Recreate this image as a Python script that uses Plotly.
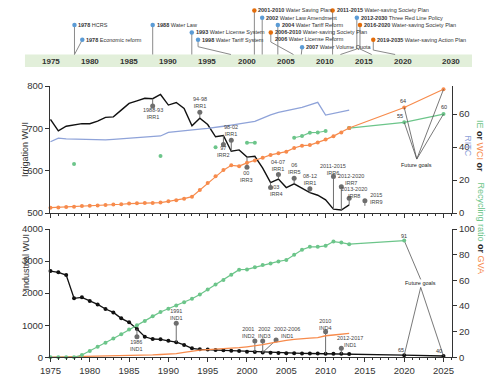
import plotly.graph_objects as go

# ---------------- data ----------------
YEARS = list(range(1975, 2014))
FUT_YEARS = [2020, 2025]

# Irrigation panel
IRR_WUI = [721, 694, 705, 708, 711, 711, 717, 726, 727, 743,
           759, 765, 771, 770, 780, 755, 761, 747, 706, 724,
           709, 680, 683, 646, 649, 632, 634, 606, 572, 580,
           560, 569, 559, 548, 542, 531, 509, 507, 519]
IRR_RITC = [43.2, 45.4, 45.0, 44.8, 44.7, 44.6, 44.5, 44.3, 44.6, 44.9,
            45.2, 45.6, 46.0, 46.4, 46.7, 48.9, 49.5, 50.0, 50.5, 50.9,
            51.3, 51.8, 52.6, 53.3, 54.0, 54.7, 55.6, 57.5, 59.5, 61.0,
            62.0, 63.0, 64.0, 65.5, 67.1, 59.4, 60.5, 61.6, 62.4]
IRR_WCI = [3.2, 3.4, 3.6, 3.8, 4.2, 4.4, 4.6, 4.8, 5.1, 5.3,
           5.7, 5.9, 6.1, 6.1, 6.3, 7.1, 7.7, 8.7, 9.9, 14.0,
           18.2, 22.3, 26.0, 28.9, 28.4, 30.4, 31.8, 33.5, 35.2, 36.2,
           37.2, 39.4, 40.8, 41.2, 42.7, 44.5, 46.6, 48.8, 51.5]
IRR_WCI_GOALS = [64, 75]
IE_YEARS = [1978, None, 1989, None, 1996, None, 2000, 2001, None,
            2006, 2007, 2008, 2009, 2010, None, 2013]
IE_VALUES = [29.7, None, 34.6, None, 39.8, None, 42.6, 42.6, None,
             45.6, 46.7, 48.7, 48.8, 49.7, None, 51.5]
IE_GOALS = [55, 60]

# Industrial panel
IND_WUI = [2690, 2650, 2565, 1840, 1870, 1755, 1650, 1505, 1400, 1215,
           1090, 880, 640, 570, 560, 515, 470, 385, 280, 250,
           245, 228, 218, 205, 195, 175, 165, 150, 140, 135,
           130, 125, 120, 118, 115, 112, 110, 108, 105]
IND_WUI_GOALS = [65, 40]
IND_RECYCLE = [0, 0, 0, 0, 1.8, 4.9, 8.2, 11.3, 14.7, 18.0,
               21.6, 25.0, 28.3, 31.9, 35.3, 37.9, 40.4, 43.0, 45.6, 49.0,
               52.8, 56.7, 60.3, 64.4, 68.3, 68.5, 70.1, 71.9, 73.2, 74.7,
               75.8, 79.9, 83.8, 86.1, 86.1, 86.9, 90.2, 89.4, 88.2]
IND_RECYCLE_GOAL = [91]
IND_GVA = [0.2, 0.3, 0.4, 0.5, 0.6, 0.7, 0.8, 0.9, 1.0, 1.1,
           1.3, 1.5, 1.7, 1.9, 2.2, 2.5, 2.9, 3.8, 5.0, 5.6,
           6.0, 6.3, 6.6, 7.0, 7.5, 8.2, 8.8, 9.8, 11.0, 12.3,
           13.2, 14.0, 14.7, 15.0, 15.4, 16.8, 17.4, 18.0, 18.6]

# Policy pins: (year of curve anchor, pin year, pin value, label)
IRR_PINS = [
    (1988, 1988, 753, "1988-93<br>IRR1"),
    (1994, 1994, 738, "94-98<br>IRR1"),
    (1997, 1997, 662, "97<br>IRR2"),
    (1998, 1998, 672, "98-02<br>IRR1"),
    (2000, 2000, 608, "00<br>IRR3"),
    (2003, 2003, 560, "03<br>IRR4"),
    (2004, 2004, 591, "04-07<br>IRR1"),
    (2006, 2006, 582, "06<br>IRR5"),
    (2008, 2008, 557, "08-12<br>IRR1"),
    (2011, 2011, 586, "2011-2015<br>IRR6"),
    (2012, 2012, 562, "2012-2020<br>IRR7"),
    (2013, 2013, 535, "2013-2020<br>IRR8"),
    (None, 2015, 529, "2015<br>IRR9"),
]
IRR9_BASE = 517
# label offsets (x years, y units) relative to pin
IRR_LABEL_OFF = [(0, -17), (0, 24), (0, -17), (0, 22), (0, -21), (0.8, -7),
                 (0, 21), (0, 22), (0, 22), (0, 16), (1.2, 17), (0.6, 13), (1.5, 6)]

IND_PINS = [
    (1986, 1986, 642, "1986<br>IND1"),
    (1991, 1991, 1060, "1991<br>IND1"),
    (2001, 2001, 508, "2001<br>IND2"),
    (2002, 2002, 508, "2002<br>IND3"),
    (2002, 2003.7, 539, "2002-2006<br>IND1"),
    (2010, 2010, 798, "2010<br>IND4"),
    (2012, 2012, 280, "2012-2017<br>IND1"),
]
IND_LABEL_OFF = [(0, -280), (0, 268), (-0.8, 259), (0.2, 259), (1.4, 228), (0, 218), (1.1, 218)]

# Timeline
TL_TICKS = [1975, 1980, 1985, 1990, 1995, 2000, 2005, 2010, 2015, 2020, 2030]
TL_EVENTS = [
    # year, bold label, text, kind, row, marker year, elbow row
    (1978, "1978", "HCRS", "law", 4, 1978, None),
    (1978, "1978", "Economic reform", "law", 2, 1979, None),
    (1988, "1988", "Water Law", "law", 4, 1988, None),
    (1993, "1993", "Water License System", "law", 3, 1993, None),
    (1998, "1998", "Water Tariff System", "law", 2, 1993.8, 1.06),
    (2001, "2001-2010", "Water Saving Plan", "plan", 6, 2001, None),
    (2002, "2002", "Water Law Amendment", "law", 5, 2002, None),
    (2004, "2004", "Water Tariff Reform", "law", 4, 2004, None),
    (2006, "2006-2010", "Water-saving Society Plan", "plan", 3, 2003.1, 1.7),
    (2006, "2006", "Water License Reform", "none", 2.15, 2003.1, None),
    (2007, "2007", "Water Volume Quota", "law", 1, 2007.1, None),
    (2011, "2011-2015", "Water-saving Society Plan", "plan", 6, 2011, None),
    (2012, "2012-2030", "Three Red Line Policy", "law", 5, 2014.1, 0.75),
    (2016, "2016-2020", "Water-saving Society Plan", "plan", 4, 2014.5, 0.75),
    (2019, "2019-2035", "Water-saving Action Plan", "plan", 2, 2016.2, 0.6),
]

# ---------------- style ----------------
FONT = "Liberation Sans, Arial, sans-serif"
BLACK = "#111111"
BLUE = "#8FA3D9"
GREEN = "#6CC58A"
ORANGE = "#F78B4C"
PIN = "#6e6e6e"
TXT = "#444444"
TL_BLUE = "#5B9BD5"
TL_ORANGE = "#E36C0A"

# page body has an 8px margin; figure is sized to fit the window
OFF = 8
W, H = 495, 383


def px_x(p):
    return (p - OFF) / W


def px_y(p):
    return 1 - (p - OFF) / H


def tl_pos(year):
    # compressed timeline scale beyond 2020
    return year if year <= 2020 else 2020 + (year - 2020) * 0.61


fig = go.Figure()

# ---------- irrigation panel ----------
fig.add_trace(go.Scatter(x=YEARS, y=IRR_RITC, mode="lines", line=dict(color=BLUE, width=1.3),
                         xaxis="x", yaxis="y2"))
fig.add_trace(go.Scatter(x=IE_YEARS + [None] + [2013] + FUT_YEARS,
                         y=IE_VALUES + [None] + [IE_VALUES[-1]] + IE_GOALS,
                         mode="lines+markers", line=dict(color=GREEN, width=1.2),
                         marker=dict(size=4, color=GREEN), xaxis="x", yaxis="y2", cliponaxis=False))
fig.add_trace(go.Scatter(x=YEARS + FUT_YEARS, y=IRR_WCI + IRR_WCI_GOALS, mode="lines+markers",
                         line=dict(color=ORANGE, width=1.2), marker=dict(size=4, color=ORANGE),
                         xaxis="x", yaxis="y2", cliponaxis=False))
fig.add_trace(go.Scatter(x=YEARS, y=IRR_WUI, mode="lines", line=dict(color=BLACK, width=1.4),
                         xaxis="x", yaxis="y"))

# irrigation pins
sx, sy, mx, my = [], [], [], []
for i, (ay, py, pv, lab) in enumerate(IRR_PINS):
    base = IRR_WUI[YEARS.index(ay)] if ay is not None else IRR9_BASE
    ax_ = ay if ay is not None else py
    sx += [ax_, py, None]
    sy += [base, pv, None]
    mx.append(py)
    my.append(pv)
    dx, dy = IRR_LABEL_OFF[i]
    fig.add_annotation(x=py + dx, y=pv + dy, xref="x", yref="y", text=lab, showarrow=False,
                       font=dict(size=5.5, color=TXT, family=FONT), align="center")
fig.add_trace(go.Scatter(x=sx, y=sy, mode="lines", line=dict(color=PIN, width=1), xaxis="x", yaxis="y"))
fig.add_trace(go.Scatter(x=mx, y=my, mode="markers", marker=dict(color=PIN, size=5), xaxis="x", yaxis="y"))

# future goals (irrigation)
apex_irr = (2021.6, 32.7)
gx, gy = [], []
for fy, fv in zip(FUT_YEARS * 2, IRR_WCI_GOALS + IE_GOALS):
    gx += [apex_irr[0], fy, None]
    gy += [apex_irr[1], fv, None]
fig.add_trace(go.Scatter(x=gx, y=gy, mode="lines", line=dict(color="#555", width=0.8),
                         xaxis="x", yaxis="y2"))
fig.add_annotation(x=apex_irr[0], y=apex_irr[1] - 3.3, xref="x", yref="y2", text="Future goals",
                   showarrow=False, font=dict(size=5.5, color="#222", family=FONT))
for fy, fv, dx, dy in [(2020, 64, -0.2, 4), (2025, 75, -0.3, 4), (2020, 55, -0.5, 4), (2025, 60, 0, 4)]:
    fig.add_annotation(x=fy + dx, y=fv + dy, xref="x", yref="y2", text=str(fv), showarrow=False,
                       font=dict(size=5.5, color="#333", family=FONT))

# ---------- industrial panel ----------
fig.add_trace(go.Scatter(x=YEARS, y=IND_GVA, mode="lines", line=dict(color=ORANGE, width=1.3),
                         xaxis="x2", yaxis="y4"))
fig.add_trace(go.Scatter(x=YEARS + [2020], y=IND_RECYCLE + IND_RECYCLE_GOAL, mode="lines+markers",
                         line=dict(color=GREEN, width=1.2), marker=dict(size=4, color=GREEN),
                         xaxis="x2", yaxis="y4", cliponaxis=False))
fig.add_trace(go.Scatter(x=YEARS + FUT_YEARS, y=IND_WUI + IND_WUI_GOALS, mode="lines+markers",
                         line=dict(color=BLACK, width=1.3), marker=dict(size=4, color=BLACK),
                         xaxis="x2", yaxis="y3", cliponaxis=False))

sx, sy, mx, my = [], [], [], []
for i, (ay, py, pv, lab) in enumerate(IND_PINS):
    base = IND_WUI[YEARS.index(ay)]
    sx += [ay, py, None]
    sy += [base, pv, None]
    mx.append(py)
    my.append(pv)
    dx, dy = IND_LABEL_OFF[i]
    fig.add_annotation(x=py + dx, y=pv + dy, xref="x2", yref="y3", text=lab, showarrow=False,
                       font=dict(size=5.5, color=TXT, family=FONT), align="center")
fig.add_trace(go.Scatter(x=sx, y=sy, mode="lines", line=dict(color=PIN, width=1), xaxis="x2", yaxis="y3"))
fig.add_trace(go.Scatter(x=mx, y=my, mode="markers", marker=dict(color=PIN, size=5), xaxis="x2", yaxis="y3"))

# future goals (industrial), drawn in left-axis units
ratio = 4000 / 100
up_apex = (2022.1, 60.7 * ratio)
lo_apex = (2022.1, 54.5 * ratio)
gx = [up_apex[0], 2020, None, lo_apex[0], 2020, None, lo_apex[0], 2025]
gy = [up_apex[1], IND_RECYCLE_GOAL[0] * ratio, None, lo_apex[1], IND_WUI_GOALS[0], None,
      lo_apex[1], IND_WUI_GOALS[1]]
fig.add_trace(go.Scatter(x=gx, y=gy, mode="lines", line=dict(color="#555", width=0.8),
                         xaxis="x2", yaxis="y3"))
fig.add_annotation(x=2022.1, y=57.6 * ratio, xref="x2", yref="y3", text="Future goals",
                   showarrow=False, font=dict(size=5.5, color="#222", family=FONT))
fig.add_annotation(x=2020, y=(IND_RECYCLE_GOAL[0] + 3.5) * ratio, xref="x2", yref="y3", text="91",
                   showarrow=False, font=dict(size=5.5, color="#333", family=FONT))
fig.add_annotation(x=2019.6, y=240, xref="x2", yref="y3", text="65",
                   showarrow=False, font=dict(size=5.5, color="#333", family=FONT))
fig.add_annotation(x=2024.4, y=200, xref="x2", yref="y3", text="40",
                   showarrow=False, font=dict(size=5.5, color="#333", family=FONT))

# ---------- timeline ----------
TL_ROW = 7.35  # px per row
TL_BASE = 54.5  # page px of band top


def tl_level(page_px):
    return (TL_BASE - page_px) / TL_ROW


fig.add_shape(type="rect", xref="x3", yref="y5", x0=1971.67, x1=2028.82, y0=tl_level(67), y1=0,
              fillcolor="#E2EFDA", line=dict(width=0), layer="below")
for t in TL_TICKS:
    fig.add_annotation(x=tl_pos(t), y=tl_level(61), xref="x3", yref="y5", text=f"<b>{t}</b>",
                       showarrow=False, font=dict(size=8, color="#333", family=FONT))

cx, cy = [], []
bx, by, ox, oy = [], [], [], []
for (yr, lab, txt, kind, row, myr, elbow) in TL_EVENTS:
    if kind != "none":
        if elbow is None:
            cx += [myr, tl_pos(yr), None]
            cy += [row, 0, None]
        else:
            cx += [myr, myr, tl_pos(yr), None]
            cy += [row, elbow, 0, None]
        if kind == "law":
            bx.append(myr); by.append(row)
        else:
            ox.append(myr); oy.append(row)
    fig.add_annotation(x=myr, y=row, xref="x3", yref="y5", text=f"<b>{lab}</b> {txt}", showarrow=False,
                       xanchor="left", xshift=2, font=dict(size=5.5, color="#333", family=FONT))
fig.add_trace(go.Scatter(x=cx, y=cy, mode="lines", line=dict(color="#8a8a8a", width=1), xaxis="x3", yaxis="y5"))
fig.add_trace(go.Scatter(x=bx, y=by, mode="markers", marker=dict(color=TL_BLUE, size=4.5),
                         xaxis="x3", yaxis="y5", cliponaxis=False))
fig.add_trace(go.Scatter(x=ox, y=oy, mode="markers", marker=dict(color=TL_ORANGE, size=4.5),
                         xaxis="x3", yaxis="y5", cliponaxis=False))

# ---------- axes ----------
XDOM = [px_x(50), px_x(452)]
XR = [1974.94, 2026.08]
irr_dom = [px_y(213), px_y(86)]
ind_dom = [px_y(357.3), px_y(229)]
tick_font = dict(size=9.5, color="#333", family=FONT)
common_x = dict(range=XR, domain=XDOM, tick0=1975, dtick=5, ticks="outside", ticklen=4,
                tickcolor="#333", linecolor="#333", linewidth=1, showline=True, showgrid=False,
                zeroline=False, tickfont=tick_font, automargin=False,
                minor=dict(dtick=1, tick0=1975, ticks="outside", ticklen=2, tickcolor="#333"))
common_y = dict(ticks="outside", ticklen=4, tickcolor="#333", linecolor="#333", linewidth=1,
                showline=True, showgrid=False, zeroline=False, tickfont=tick_font, automargin=False)

# timeline x scale: 1975 at page px 51, 7.822 px per year
tl_r0 = 1975 - (51 - OFF) / 7.822
tl_r1 = tl_r0 + W / 7.822

fig.update_layout(
    width=W, height=H, margin=dict(l=0, r=0, t=0, b=0, autoexpand=False),
    paper_bgcolor="white", plot_bgcolor="rgba(0,0,0,0)", showlegend=False,
    font=dict(family=FONT),
    xaxis=dict(anchor="y", showticklabels=False, **common_x),
    yaxis=dict(domain=irr_dom, range=[500, 800], dtick=100, anchor="x", **common_y),
    yaxis2=dict(range=[0, 77], dtick=20, overlaying="y", side="right", anchor="x", **common_y),
    xaxis2=dict(anchor="y3", **common_x),
    yaxis3=dict(domain=ind_dom, range=[0, 4000], dtick=1000, anchor="x2", **common_y),
    yaxis4=dict(range=[0, 100], dtick=20, overlaying="y3", side="right", anchor="x2", **common_y),
    xaxis3=dict(domain=[0, 1], range=[tl_r0, tl_r1], visible=False, anchor="y5", automargin=False),
    yaxis5=dict(domain=[px_y(70), 1], range=[tl_level(70), tl_level(OFF)], visible=False,
                anchor="x3", automargin=False),
)

# axis titles
fig.add_annotation(x=px_x(18), y=px_y(150), xref="paper", yref="paper", text="Irrigation WUI",
                   textangle=-90, showarrow=False, font=dict(size=9, color="#333", family=FONT))
fig.add_annotation(x=px_x(18), y=px_y(293), xref="paper", yref="paper", text="Industrial WUI",
                   textangle=-90, showarrow=False, font=dict(size=9, color="#333", family=FONT))
fig.add_annotation(
    x=px_x(487), y=px_y(146), xref="paper", yref="paper", textangle=90, showarrow=False,
    text=(f"<span style='color:{GREEN}'>IE</span> <b>or</b> <span style='color:{ORANGE}'>WCI</span> <b>or</b>"
          f"<br><span style='color:{BLUE}'>RITC</span>"),
    font=dict(size=9, color="#222", family=FONT))
fig.add_annotation(
    x=px_x(488), y=px_y(275), xref="paper", yref="paper", textangle=90, showarrow=False,
    text=(f"<span style='color:{GREEN}'>Recycling ratio</span> <b>or</b> "
          f"<span style='color:{ORANGE}'>GVA</span>"),
    font=dict(size=9, color="#222", family=FONT))

fig.write_html("out.html")
